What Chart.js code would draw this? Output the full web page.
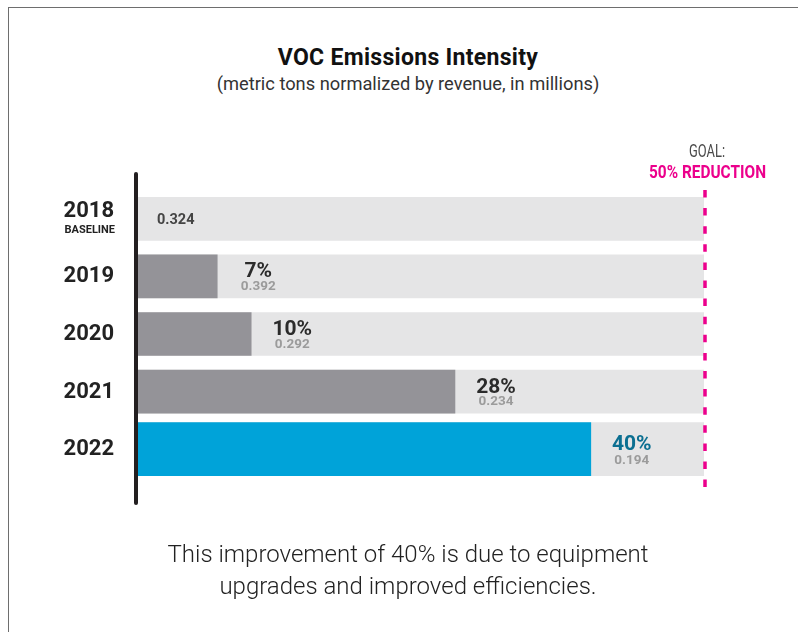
<!DOCTYPE html>
<html>
<head>
<meta charset="utf-8">
<script src="https://cdn.jsdelivr.net/npm/chart.js@4.4.1/dist/chart.umd.min.js"></script>
<style>
  html, body { margin: 0; padding: 0; background: #fff; overflow: hidden; }
  #wrap { position: relative; width: 798px; height: 632px; }
  #frame { position: absolute; left: 8px; top: 7px; width: 820px; height: 660px; border: 1.5px solid #6e6e6e; box-sizing: border-box; }
  #title { position: absolute; left: 8px; width: 800px; top: 44px; line-height: 27px; text-align: center; font-family: Roboto, sans-serif; font-weight: 700; font-size: 23px; letter-spacing: 0.3px; color: #111; }
  #subtitle { position: absolute; left: 8px; width: 800px; top: 73px; line-height: 22px; text-align: center; font-family: Roboto, sans-serif; font-weight: 400; font-size: 18.3px; color: #333; }
  #note { position: absolute; left: 8px; width: 800px; top: 538px; text-align: center; font-family: Roboto, sans-serif; font-weight: 300; font-size: 24px; line-height: 32px; color: #222; }
  #chartBox { position: absolute; left: 0; top: 0; width: 798px; height: 632px; }
</style>
</head>
<body>
<div id="wrap">
  <div id="frame"></div>
  <div id="title">VOC Emissions Intensity</div>
  <div id="subtitle">(metric tons normalized by revenue, in millions)</div>
  <div id="chartBox"><canvas id="c"></canvas></div>
  <div id="note">This improvement of 40% is due to equipment<br>upgrades and improved efficiencies.</div>
</div>
<script>
// ---- data ----
const years = ['2018', '2019', '2020', '2021', '2022'];
const yearNotes = ['BASELINE', '', '', '', ''];
const reductionPct = [0, 7, 10, 28, 40];
const intensity = [0.324, 0.392, 0.292, 0.234, 0.194];
const goalPct = 50;
const goalLabel = 'GOAL:';
const goalText = '50% REDUCTION';
const highlightIndex = 4;

// datasets built from arrays
const fgRegular = reductionPct.map((v, i) => (i === 0 || i === highlightIndex) ? null : v);
const fgHighlight = reductionPct.map((v, i) => i === highlightIndex ? v : null);
const bgRegular = years.map((_, i) => i === highlightIndex ? null : goalPct);
const bgHighlight = years.map((_, i) => i === highlightIndex ? goalPct : null);

function fitText(ctx, text, x, y, width) {
  const w = ctx.measureText(text).width;
  const s = width / w;
  ctx.save();
  ctx.translate(x, y);
  ctx.scale(s, 1);
  ctx.textAlign = 'center';
  ctx.fillText(text, 0, 0);
  ctx.restore();
}

const labelPlugin = {
  id: 'labels',
  afterDatasetsDraw(chart) {
    const ctx = chart.ctx;
    const x = chart.scales.x, y = chart.scales.y;
    ctx.save();
    // axis line
    ctx.strokeStyle = '#231f20';
    ctx.lineWidth = 4;
    ctx.lineCap = 'round';
    ctx.beginPath();
    ctx.moveTo(x.getPixelForValue(0) - 2, 174);
    ctx.lineTo(x.getPixelForValue(0) - 2, 503);
    ctx.stroke();
    // goal dashed line
    const gx = x.getPixelForValue(goalPct) + 1;
    ctx.strokeStyle = '#ec008c';
    ctx.lineWidth = 3.5;
    ctx.lineCap = 'butt';
    ctx.setLineDash([7.5, 10.6]);
    ctx.beginPath();
    ctx.moveTo(gx, 190);
    ctx.lineTo(gx, 488);
    ctx.stroke();
    ctx.setLineDash([]);
    // goal labels (condensed look)
    ctx.textBaseline = 'alphabetic';
    ctx.fillStyle = '#4a4a4a';
    ctx.font = '400 19px Roboto, sans-serif';
    fitText(ctx, goalLabel, gx + 2, 157, 36);
    ctx.fillStyle = '#ec008c';
    ctx.font = '700 19px Roboto, sans-serif';
    fitText(ctx, goalText, gx + 2.5, 178, 117);

    years.forEach((yr, i) => {
      const cy = y.getPixelForValue(i);
      // year labels
      ctx.textAlign = 'right';
      ctx.fillStyle = '#222';
      ctx.font = '700 22px Roboto, sans-serif';
      if (yearNotes[i]) {
        ctx.fillText(yr, 114, cy - 1.5);
        ctx.font = '700 11px Roboto, sans-serif';
        ctx.fillText(yearNotes[i], 115, cy + 14);
      } else {
        ctx.fillText(yr, 114, cy + 6);
      }
      // value labels
      if (reductionPct[i] === 0) {
        ctx.textAlign = 'left';
        ctx.fillStyle = '#444';
        ctx.font = '700 14.5px Roboto, sans-serif';
        ctx.fillText(intensity[i].toFixed(3), 157, cy + 5);
      } else {
        const lx = x.getPixelForValue(reductionPct[i]) + 41;
        const hi = i === highlightIndex;
        ctx.textAlign = 'center';
        ctx.fillStyle = hi ? '#0b6f91' : '#2b2b2b';
        ctx.font = '700 21px Roboto, sans-serif';
        ctx.fillText(reductionPct[i] + '%', lx, cy + 1);
        ctx.fillStyle = '#9b9b9b';
        ctx.font = '700 13.5px Roboto, sans-serif';
        ctx.fillText(intensity[i].toFixed(3), lx, cy + (hi ? 15 : 13.5));
      }
    });
    ctx.restore();
  }
};

function build() {
  new Chart(document.getElementById('c'), {
    type: 'bar',
    data: {
      labels: years,
      datasets: [
        { data: fgRegular, backgroundColor: '#949398', barThickness: 43, grouped: false, order: 1 },
        { data: fgHighlight, backgroundColor: '#00a3d9', barThickness: 53, grouped: false, order: 1 },
        { data: bgRegular, backgroundColor: '#e5e5e6', barThickness: 43, grouped: false, order: 2 },
        { data: bgHighlight, backgroundColor: '#e5e5e6', barThickness: 53, grouped: false, order: 2 }
      ]
    },
    options: {
      indexAxis: 'y',
      responsive: true,
      maintainAspectRatio: false,
      animation: false,
      layout: { padding: { left: 138, right: 94, top: 190, bottom: 154 } },
      scales: {
        x: { display: false, min: 0, max: goalPct },
        y: { display: false, offset: true }
      },
      plugins: { legend: { display: false }, tooltip: { enabled: false }, title: { display: false } }
    },
    plugins: [labelPlugin]
  });
}

Promise.all([
  document.fonts.load('700 22px Roboto'),
  document.fonts.load('400 17px Roboto'),
  document.fonts.load('300 19px Roboto')
]).then(build, build);
</script>
</body>
</html>
